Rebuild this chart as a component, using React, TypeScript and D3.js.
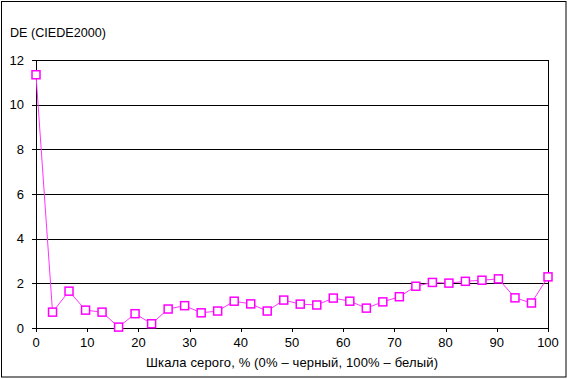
import React from "react";
import * as d3 from "d3";

const grayPercent: number[] = [0, 3.23, 6.45, 9.68, 12.9, 16.13, 19.35, 22.58, 25.81, 29.03, 32.26, 35.48, 38.71, 41.94, 45.16, 48.39, 51.61, 54.84, 58.06, 61.29, 64.52, 67.74, 70.97, 74.19, 77.42, 80.65, 83.87, 87.1, 90.32, 93.55, 96.77, 100];
const deValues: number[] = [11.34, 0.71, 1.65, 0.8, 0.71, 0.04, 0.64, 0.19, 0.85, 1.0, 0.68, 0.76, 1.2, 1.08, 0.76, 1.25, 1.07, 1.03, 1.34, 1.2, 0.89, 1.17, 1.4, 1.87, 2.04, 2.01, 2.09, 2.14, 2.2, 1.35, 1.12, 2.29];
const xTicks: number[] = [0, 10, 20, 30, 40, 50, 60, 70, 80, 90, 100];
const yTicks: number[] = [0, 2, 4, 6, 8, 10, 12];
const yTitle = "DE (CIEDE2000)";
const xTitle = "Шкала серого, % (0% – черный, 100% – белый)";

export default function App() {
  const W = 568, H = 379;
  const left = 36, right = 548, top = 60, bottom = 328;
  const x = d3.scaleLinear().domain([0, 100]).range([left, right]);
  const y = d3.scaleLinear().domain([0, 12]).range([bottom, top]);
  const line = d3.line<number>().x((_, i) => x(grayPercent[i])).y((d) => y(d));
  const font = "'Liberation Sans', Arial, sans-serif";
  const ms = 8;
  return (
    <svg width={W} height={H} style={{ position: "absolute", left: 0, top: 0, background: "#fff" }} fontFamily={font}>
      <rect x={0} y={0} width={W} height={H} fill="#fff" />
      <rect x={1.5} y={1.5} width={564.5} height={375.5} fill="none" stroke="#000" strokeWidth={1} />
      {yTicks.map((t) => (
        <g key={"y" + t}>
          <line x1={left} x2={right} y1={Math.round(y(t)) + 0.5} y2={Math.round(y(t)) + 0.5} stroke="#000" strokeWidth={1} />
          <line x1={left - 4} x2={left} y1={Math.round(y(t)) + 0.5} y2={Math.round(y(t)) + 0.5} stroke="#000" strokeWidth={1} />
          <text x={24} y={y(t) + 4.5} textAnchor="end" fontSize={13} fill="#000">{t}</text>
        </g>
      ))}
      <line x1={left + 0.5} x2={left + 0.5} y1={top} y2={bottom} stroke="#000" />
      <line x1={right + 0.5} x2={right + 0.5} y1={top} y2={bottom + 0.5} stroke="#000" />
      {xTicks.map((t) => (
        <g key={"x" + t}>
          <line x1={Math.round(x(t)) + 0.5} x2={Math.round(x(t)) + 0.5} y1={bottom} y2={bottom + 4} stroke="#000" />
          <text x={x(t)} y={347} textAnchor="middle" fontSize={13} fill="#000">{t}</text>
        </g>
      ))}
      <path d={line(deValues) || ""} fill="none" stroke="#ff33ff" strokeWidth={1} />
      {deValues.map((v, i) => (
        <rect key={"m" + i} x={x(grayPercent[i]) - ms / 2} y={y(v) - ms / 2} width={ms} height={ms} fill="#fff" stroke="#ff00ff" strokeWidth={1.5} />
      ))}
      <text x={10} y={37} fontSize={13} fill="#000" textLength={96} lengthAdjust="spacingAndGlyphs">{yTitle}</text>
      <text x={292} y={367} textAnchor="middle" fontSize={13} fill="#000" textLength={292} lengthAdjust="spacing">{xTitle}</text>
    </svg>
  );
}
